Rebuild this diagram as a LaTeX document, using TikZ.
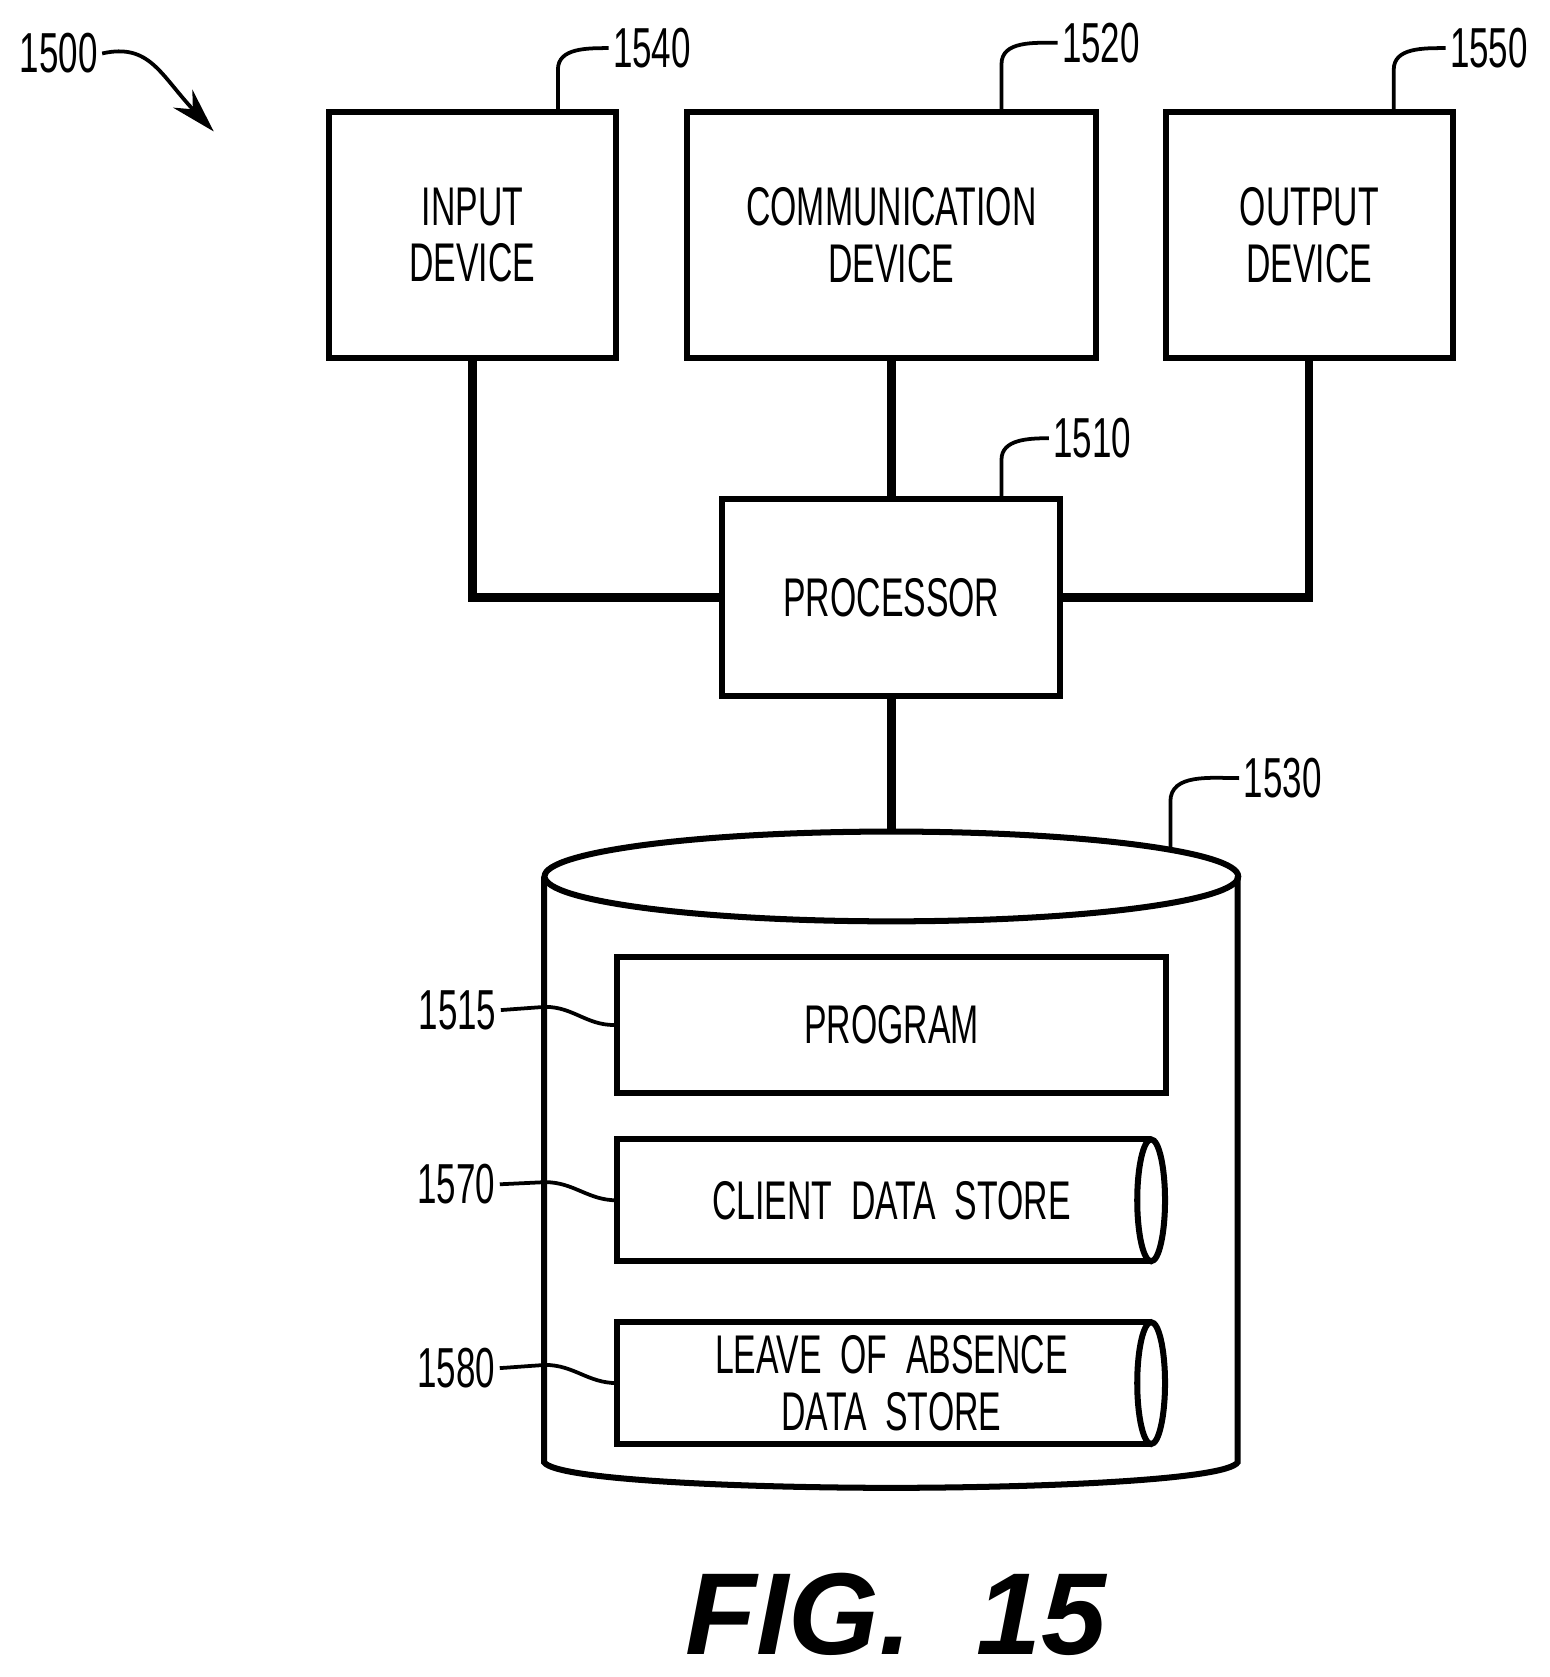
\documentclass[tikz,border=0pt]{standalone}
\usepackage{fontspec}
\setsansfont{Liberation Sans}[FakeStretch=0.62]
\newfontfamily\figfont{Liberation Sans}
\usetikzlibrary{arrows.meta}
\tikzset{
  box/.style={draw,line width=1.6pt,minimum width=#1,inner sep=0pt,align=center,font=\sffamily\fontsize{14.5}{15}\selectfont},
  ref/.style={font=\sffamily\fontsize{15}{17}\selectfont,inner sep=1pt},
  lead/.style={line width=1pt},
  wire/.style={line width=2.2pt},
}
\begin{document}
\begin{tikzpicture}[x=0.01cm,y=-0.01cm]
	\useasboundingbox (0,0) rectangle (1450,1569);
	\node[box=2.69cm,minimum height=2.3cm] (input) at (442,220) {INPUT\\DEVICE};
	\node[box=3.82cm,minimum height=2.3cm] (comm) at (834,220) {COMMUNICATION\\DEVICE};
	\node[box=2.68cm,minimum height=2.3cm] (output) at (1225,220) {OUTPUT\\DEVICE};
	\node[box=3.16cm,minimum height=1.84cm] (proc) at (834,559) {PROCESSOR};
	\coordinate (dbtop) at (834,778);
	% storage cylinder
	\draw[line width=1.6pt] (834,820) ellipse [x radius=324.5,y radius=42];
	\draw[line width=1.6pt] (509,820) -- (509,1368) .. controls (520,1385) and (700,1392) .. (834,1392)
		.. controls (968,1392) and (1148,1385) .. (1158,1368) -- (1158,820);
	\node[box=5.13cm,minimum height=1.28cm] (prog) at (834,959) {PROGRAM};
	\draw[line width=1.6pt] (1077,1066) -- (577,1066) -- (577,1180) -- (1077,1180);
	\draw[line width=1.6pt] (1077,1123) ellipse [x radius=13,y radius=57];
	\node[box=0cm,draw=none] (client) at (834,1123) {CLIENT\ \ DATA\ \ STORE};
	\draw[line width=1.6pt] (1077,1237) -- (577,1237) -- (577,1351) -- (1077,1351);
	\draw[line width=1.6pt] (1077,1294) ellipse [x radius=13,y radius=57];
	\node[box=0cm,draw=none] (leave) at (834,1294) {LEAVE\ \ OF\ \ ABSENCE\\DATA\ \ STORE};
	\coordinate (clientw) at (577,1123);
	\coordinate (leavew) at (577,1294);
	% connectors
	\draw[wire] (input.south) |- (proc.west);
	\draw[wire] (output.south) |- (proc.east);
	\draw[wire] (comm.south) -- (proc.north);
	\draw[wire] (proc.south) -- (dbtop);
	% reference numerals
	\node[ref] (n1500) at (55,50) {1500};
	\node[ref] (n1540) at (610,45) {1540};
	\node[ref] (n1520) at (1030,40) {1520};
	\node[ref] (n1550) at (1393,45) {1550};
	\node[ref] (n1510) at (1022,410) {1510};
	\node[ref] (n1530) at (1200,728) {1530};
	\node[ref] (n1515) at (428,945) {1515};
	\node[ref] (n1570) at (427,1108) {1570};
	\node[ref] (n1580) at (427,1280) {1580};
	\draw[lead,-{Stealth[length=12pt,width=7pt]}] (n1500.east) .. controls (140,40) and (150,70) .. (200,123);
	\draw[lead] (522,105) -- (522,65) to[out=90,in=180] (n1540.west);
	\draw[lead] (937,105) -- (937,60) to[out=90,in=180] (n1520.west);
	\draw[lead] (1304,105) -- (1304,65) to[out=90,in=180] (n1550.west);
	\draw[lead] (937,467) -- (937,430) to[out=90,in=180] (n1510.west);
	\draw[lead] (1095,793) -- (1095,750) to[out=90,in=180] (n1530.west);
	\draw[lead] (n1515.east) -- (510,942) to[out=0,in=180] (prog.west);
	\draw[lead] (n1570.east) -- (510,1106) to[out=0,in=180] (clientw);
	\draw[lead] (n1580.east) -- (510,1277) to[out=0,in=180] (leavew);
	\node[font=\figfont\bfseries\itshape\fontsize{31}{34}\selectfont] (fig) at (838,1510) {FIG.\ \ 15};
\end{tikzpicture}
\end{document}
